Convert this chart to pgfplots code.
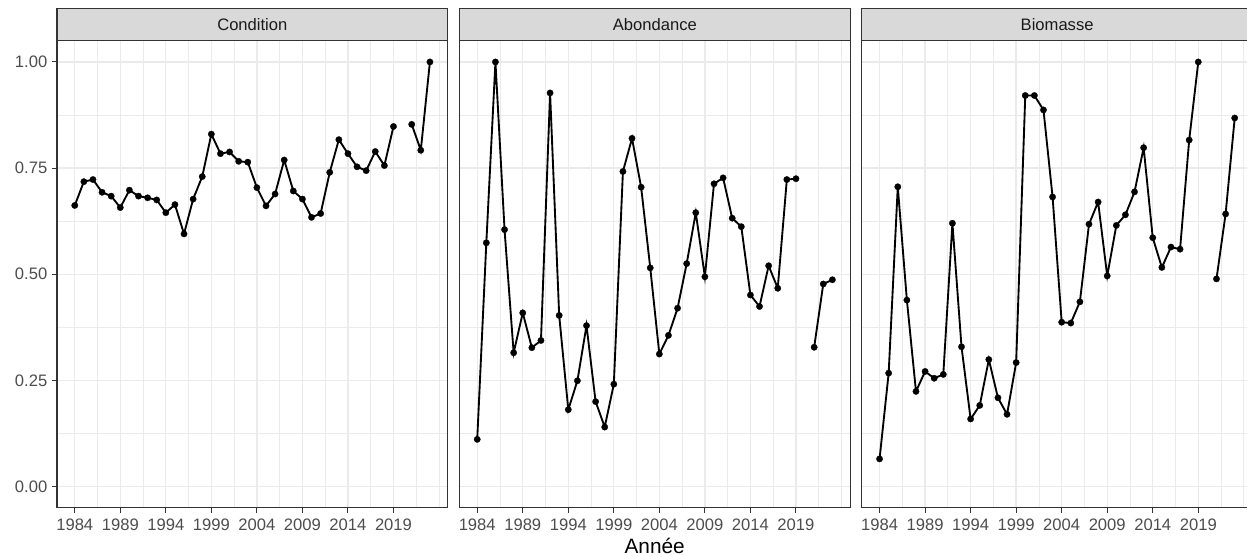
\documentclass[border=0pt]{standalone}
\usepackage{fontspec}
\setmainfont{Liberation Sans}
\usepackage{pgfplots}
\usepackage{pgfplotstable}
\pgfplotsset{compat=1.18}
\definecolor{gridc}{HTML}{EBEBEB}
\definecolor{framec}{HTML}{333333}
\definecolor{ticklab}{HTML}{4D4D4D}
\definecolor{stripfill}{HTML}{D9D9D9}
\definecolor{striptext}{HTML}{1A1A1A}

\pgfplotstableread{
year cond abond biom
1984 0.662 0.111 0.065
1985 0.718 0.574 0.267
1986 0.723 1.000 0.706
1987 0.693 0.605 0.439
1988 0.684 0.315 0.224
1989 0.657 0.409 0.271
1990 0.698 0.327 0.255
1991 0.684 0.344 0.264
1992 0.680 0.927 0.620
1993 0.675 0.403 0.329
1994 0.645 0.181 0.159
1995 0.664 0.249 0.191
1996 0.595 0.379 0.299
1997 0.677 0.200 0.209
1998 0.730 0.140 0.170
1999 0.830 0.241 0.292
2000 0.784 0.742 0.921
2001 0.788 0.820 0.921
2002 0.766 0.705 0.887
2003 0.764 0.515 0.682
2004 0.704 0.312 0.387
2005 0.661 0.356 0.385
2006 0.689 0.420 0.435
2007 0.769 0.525 0.618
2008 0.696 0.645 0.670
2009 0.677 0.494 0.496
2010 0.634 0.713 0.615
2011 0.643 0.727 0.640
2012 0.740 0.632 0.694
2013 0.817 0.612 0.798
2014 0.784 0.451 0.586
2015 0.753 0.424 0.516
2016 0.744 0.520 0.564
2017 0.789 0.467 0.559
2018 0.756 0.723 0.816
2019 0.848 0.725 1.000
2020 nan nan nan
2021 0.853 0.328 0.489
2022 0.792 0.477 0.642
2023 1.000 0.487 0.868
}\data

\pgfplotsset{
 panel/.style={
  scale only axis, width=293pt, height=350.25pt,
  anchor=south west,
  xmin=1982.05, xmax=2024.95, ymin=-0.05, ymax=1.05,
  xtick={1984,1989,1994,1999,2004,2009,2014,2019},
  xticklabels={1984,1989,1994,1999,2004,2009,2014,2019},
  minor xtick={1986.5,1991.5,1996.5,2001.5,2006.5,2011.5,2016.5,2021.5,2024},
  ytick={0,0.25,0.5,0.75,1},
  minor ytick={0.125,0.375,0.625,0.875},
  grid=both,
  major grid style={draw=gridc, line width=1pt},
  minor grid style={draw=gridc, line width=0.55pt},
  axis line style={draw=framec, line width=0.8pt},
  tick align=outside, tick pos=left,
  major tick length=3.75pt, minor tick length=0pt,
  tick style={draw=framec, line width=0.8pt},
  ticklabel style={font=\fontsize{12.45}{14}\selectfont, text=ticklab},
  xticklabel style={yshift=-1.2pt},
  unbounded coords=jump,
 },
 dat/.style={black, line width=1.4pt, mark=*, mark size=2.4pt,
   mark options={solid, fill=black, draw=black, line width=0.2pt}},
}

\newcommand{\strip}[2]{%
  \draw[fill=stripfill, draw=framec, line width=0.8pt] (#1.north west) rectangle ([yshift=24.5pt]#1.north east);
  \node[font=\fontsize{12.45}{14}\selectfont, text=striptext] at ([yshift=12.25pt]#1.north) {#2};
}

\begin{document}
\begin{tikzpicture}
\begin{axis}[panel, name=p1, at={(42.75pt,36.2pt)},
  yticklabels={0.00,0.25,0.50,0.75,1.00}]
\addplot[dat] table[x=year,y=cond]{\data};
\end{axis}
\strip{p1}{Condition}

\begin{axis}[panel, name=p2, at={(344.6pt,36.2pt)},
  yticklabels={}, ytick style={draw=none}]
\addplot[dat] table[x=year,y=abond]{\data};
\end{axis}
\strip{p2}{Abondance}

\begin{axis}[panel, name=p3, at={(646.35pt,36.2pt)},
  yticklabels={}, ytick style={draw=none}]
\addplot[dat] table[x=year,y=biom]{\data};
\end{axis}
\strip{p3}{Biomasse}

\node[anchor=base, font=\fontsize{15.6}{18}\selectfont] at (491pt,1.8pt) {Année};

\pgfresetboundingbox
\useasboundingbox (0,0) rectangle (935.25pt,417pt);
\end{tikzpicture}
\end{document}
